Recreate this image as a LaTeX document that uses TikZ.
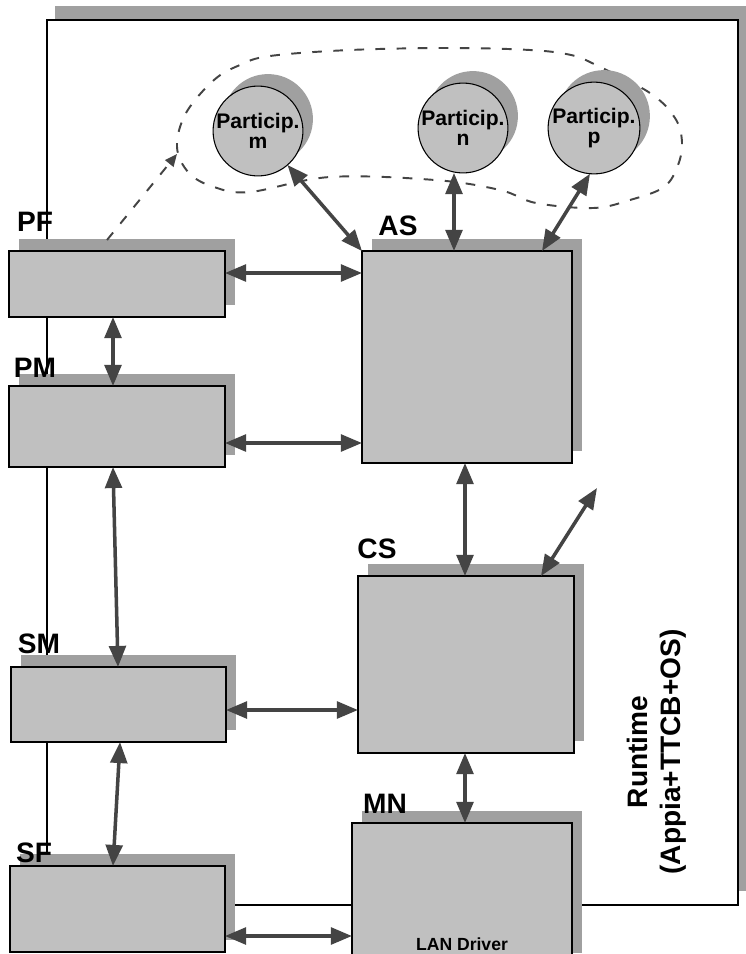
\documentclass[tikz,border=0pt]{standalone}
\usepackage{fontspec}
\setmainfont{Liberation Sans}
\usepackage{tikz}
\usetikzlibrary{positioning, shadows, arrows.meta}
\usepackage{xcolor}
\definecolor{boxgray}{HTML}{C0C0C0}
\definecolor{shadowgray}{HTML}{A0A0A0}
\definecolor{arrowgray}{HTML}{444444}

\begin{document}
\begin{tikzpicture}[x=0.02cm, y=-0.02cm,
    block/.style={draw=black, line width=0.9pt, fill=boxgray, rectangle, anchor=north west,
        inner sep=0pt, outer sep=0pt,
        general shadow={shadow xshift=0.2cm, shadow yshift=0.24cm, fill=shadowgray}},
    partic/.style={draw=black, line width=0.6pt, fill=boxgray, circle, minimum size=1.66cm,
        inner sep=0pt, outer sep=0pt, align=center, font=\fontsize{12}{11}\selectfont\bfseries,
        general shadow={shadow xshift=0.2cm, shadow yshift=0.24cm, fill=shadowgray}},
    lbl/.style={font=\fontsize{16}{18}\selectfont\bfseries},
    biarrow/.style={draw=arrowgray, line width=2pt,
        {Triangle[length=12pt,width=9.5pt]}-{Triangle[length=12pt,width=9.5pt]}},
    dashlink/.style={draw=arrowgray, line width=1.1pt, dash pattern=on 5.5pt off 6.5pt}]

        \useasboundingbox (0,0) rectangle (746,954);

        % Runtime frame
        \draw[line width=0.7pt, fill=white,
            general shadow={shadow xshift=0.16cm, shadow yshift=0.28cm, fill=shadowgray}]
            (47,20) rectangle (738,905);
        \node[rotate=90, align=center, font=\fontsize{16}{19}\selectfont\bfseries] (rt) at (657,752)
            {Runtime\\(Appia+TTCB+OS)};

        % Group of participants (dashed)
        \draw[dashlink] plot[smooth cycle, tension=0.6] coordinates {
            (177,147) (186,113) (214,80) (240,65) (270,56) (350,50) (450,48) (530,50)
            (571,55) (596,65) (650,93) (675,118) (682,142) (678,165) (664,187) (630,200)
            (593,208) (536,203) (500,190) (435,180) (330,177) (250,192) (214,187) (189,173)};

        % Participants
        \node[partic] (m) at (258,131) {Particip.\\m};
        \node[partic] (n) at (463,128) {Particip.\\n};
        \node[partic] (p) at (594,128) {Particip.\\p};

        % Modules
        \node[block, minimum width=4.32cm, minimum height=1.32cm] (PF) at (9,251) {};
        \node[block, minimum width=4.32cm, minimum height=1.62cm] (PM) at (9,386) {};
        \node[block, minimum width=4.2cm, minimum height=4.24cm] (AS) at (362,251) {};
        \node[block, minimum width=4.32cm, minimum height=3.54cm] (CS) at (358,576) {};
        \node[block, minimum width=4.3cm, minimum height=1.5cm] (SM) at (11,667) {};
        \node[block, minimum width=4.3cm, minimum height=1.72cm] (SF) at (10,866) {};
        \node[block, minimum width=4.4cm, minimum height=2.84cm] (MN) at (352,823) {};

        % Module labels
        \node[lbl] (PFl) at (35,222) {PF};
        \node[lbl] (PMl) at (35,368) {PM};
        \node[lbl] (ASl) at (398,226) {AS};
        \node[lbl] (CSl) at (377,549) {CS};
        \node[lbl] (SMl) at (39,644) {SM};
        \node[lbl] (SFl) at (34,853) {SF};
        \node[lbl] (MNl) at (385,804) {MN};
        \node[font=\fontsize{10}{11}\selectfont\bfseries] (lan) at (462,944) {LAN Driver};

        % Free ends
        \coordinate (pfdash) at (107,240);
        \coordinate (grp) at (177,154);
        \coordinate (rtfree) at (597,488);

        % Arrows to participants
        \draw[biarrow] (m) -- (AS.north west);
        \draw[biarrow] (n.south -| 454,0) -- (AS.north -| 454,0);
        \draw[biarrow] (p.-95) -- (AS.north -| 542,0);
        \draw[dashlink, -{Triangle[length=7pt,width=6pt]}] (pfdash) -- (grp);

        % Arrows between modules
        \draw[biarrow] (PF.east |- 0,273) -- (AS.west |- 0,273);
        \draw[biarrow] (PM.east |- 0,443) -- (AS.west |- 0,443);
        \draw[biarrow] (PF.south -| 113,0) -- (PM.north -| 113,0);
        \draw[biarrow] (PM.south -| 113,0) -- (SM.north -| 118,0);
        \draw[biarrow] (SM.south -| 120,0) -- (SF.north -| 113,0);
        \draw[biarrow] (AS.south -| 465,0) -- (CS.north -| 465,0);
        \draw[biarrow] (CS.north -| 541,0) -- (rtfree);
        \draw[biarrow] (SM.east |- 0,710) -- (CS.west |- 0,710);
        \draw[biarrow] (CS.south -| 465,0) -- (MN.north -| 465,0);
        \draw[biarrow] (SF.east |- 0,936) -- (MN.west |- 0,936);
    \end{tikzpicture}
\end{document}
